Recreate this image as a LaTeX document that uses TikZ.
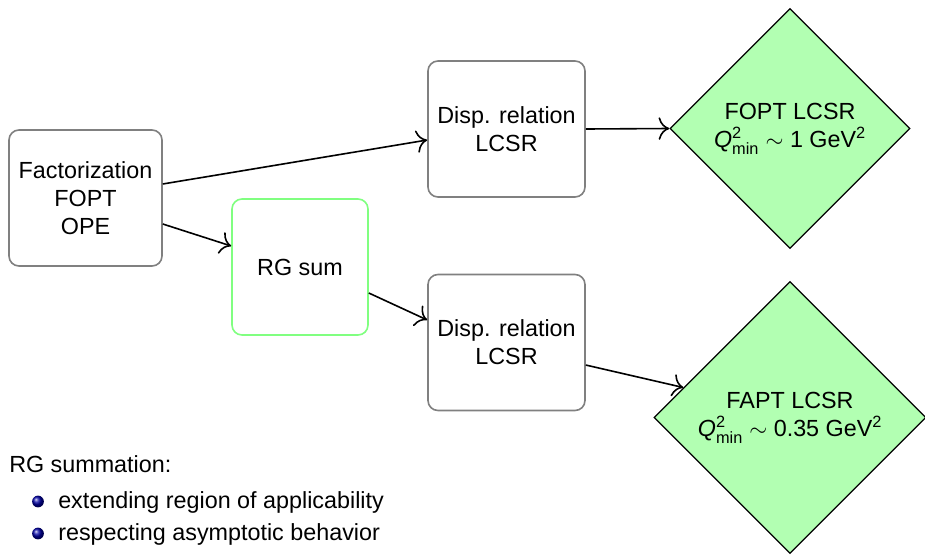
\documentclass[tikz,border=0pt]{standalone}
\usepackage{fontspec}
\usepackage{amsmath}
\setmainfont{Liberation Sans}
\usetikzlibrary{shapes.geometric,calc,arrows.meta}
\begin{document}
\begin{tikzpicture}[x=0.75pt,y=-0.75pt,
  every node/.style={font=\fontsize{17.5pt}{21pt}\selectfont},
  box/.style={draw=black!50,line width=1.2pt,rounded corners=7.5pt,fill=white,
    minimum width=117.75pt,minimum height=102pt,align=center,inner sep=0pt},
  rgbox/.style={box,draw=green!50,minimum width=102pt},
  res/.style={diamond,draw=black,line width=1pt,fill=green!30,aspect=1,
    inner sep=0pt,align=center},
  arr/.style={-{To[scale=1.9]},line width=1.2pt},
  bul/.style={ball color=blue!65!black},
  txt/.style={anchor=base west,inner sep=0pt}]
\useasboundingbox (0,0) rectangle (925,554);
\node[box,minimum width=114.75pt] (fact) at (85.5,198) {Factorization\\FOPT\\OPE};
\node[rgbox] (rg) at (300,267) {RG sum};
\node[box] (disp1) at (506.5,129) {Disp. relation\\LCSR};
\node[box] (disp2) at (506.5,342.5) {Disp. relation\\LCSR};
\node[res,minimum size=180pt] (dia1) at (790,128.5)
  {FOPT LCSR\\{\itshape Q}$^{\text{2}}_{\text{min}}\sim$ 1 GeV$^{\text{2}}$};
\node[res,minimum size=204pt] (dia2) at (790,417.5)
  {FAPT LCSR\\{\itshape Q}$^{\text{2}}_{\text{min}}\sim$ 0.35 GeV$^{\text{2}}$};
\draw[arr] ([yshift=10.5pt]fact.east) -- ([yshift=-8.25pt]disp1.west);
\draw[arr] ([yshift=-19.5pt]fact.east) -- ([yshift=15.75pt]rg.west);
\draw[arr] (disp1.east) -- (dia1.west);
\draw[arr] ([yshift=-19.5pt]rg.east) -- ([yshift=16.9pt]disp2.west);
\draw[arr] ([yshift=-16.9pt]disp2.east) -- ($(dia2.west)+(30,-30)$);
\node[txt] (t0) at (9,472) {RG summation:};
\shade[bul] (38,501.5) circle (4.4pt);
\node[txt] (t1) at (58,508) {extending region of applicability};
\shade[bul] (38,533.5) circle (4.4pt);
\node[txt] (t2) at (58,540) {respecting asymptotic behavior};
\end{tikzpicture}
\end{document}
